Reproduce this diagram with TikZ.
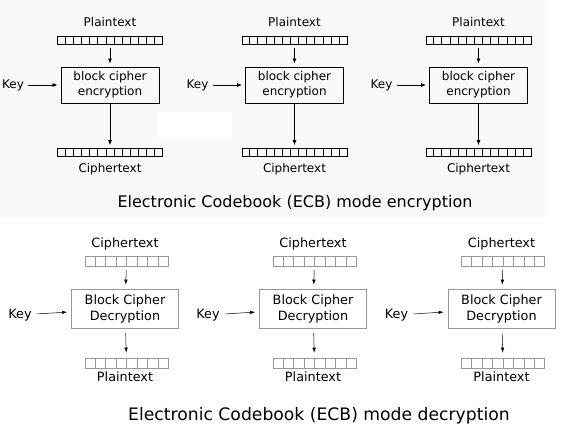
\documentclass[tikz,border=0pt]{standalone}
\usepackage{fontspec}
\setmainfont{DejaVu Sans}
\usetikzlibrary{calc,arrows.meta}
\definecolor{bgray}{HTML}{F8F8F8}
\definecolor{lgray}{HTML}{999999}
\begin{document}
\begin{tikzpicture}[x=1pt,y=-1pt,
  elbl/.style={inner sep=0pt, font=\fontsize{12}{14}\selectfont},
  dlbl/.style={inner sep=0pt, font=\fontsize{12.8}{15}\selectfont},
  ebar/.style={draw=black, line width=0.8pt, minimum width=105pt, minimum height=8pt, inner sep=0pt},
  ecell/.style={black, line width=0.8pt},
  ebox/.style={draw=black, line width=0.9pt, minimum width=98pt, minimum height=36pt, align=center, inner sep=0pt, font=\fontsize{12}{15}\selectfont},
  earr/.style={black, line width=0.8pt, -{Latex[length=5pt,width=4pt]}},
  dbar/.style={draw=lgray, line width=0.6pt, minimum width=83pt, minimum height=10pt, inner sep=0pt},
  dcell/.style={lgray, line width=0.6pt},
  dbox/.style={draw=lgray, line width=0.7pt, minimum width=107pt, minimum height=39pt, align=center, inner sep=0pt, font=\fontsize{12.8}{16}\selectfont},
  darr/.style={black, line width=0.5pt, -{Latex[length=5pt,width=3.5pt]}}
]
\useasboundingbox (0,0) rectangle (566,434);
\fill[bgray] (0,0) rectangle (545,217);
\fill[white] (157,112) rectangle (232,137);

% encryption
\foreach \i/\cx in {1/110,2/294.5,3/478.5}{
  \node[elbl] (ep\i) at (\cx,22) {Plaintext};
  \node[ebar] (eb\i) at (\cx,40.5) {};
  \node[ebox] (ec\i) at (\cx,85) {block cipher\\encryption};
  \node[ebar] (eo\i) at (\cx,152.5) {};
  \node[elbl] (et\i) at (\cx,169) {Ciphertext};
  \node[elbl] (ek\i) at (\cx-97,85) {Key};
  \foreach \j in {1,...,12}{
    \draw[ecell] ($(eb\i.north west)!\j/13!(eb\i.north east)$) -- ($(eb\i.south west)!\j/13!(eb\i.south east)$);
    \draw[ecell] ($(eo\i.north west)!\j/13!(eo\i.north east)$) -- ($(eo\i.south west)!\j/13!(eo\i.south east)$);
  }
  \draw[earr, shorten <=3pt, shorten >=3pt] (eb\i) -- (ec\i);
  \draw[earr, shorten <=1pt, shorten >=3pt] (ec\i) -- (eo\i);
  \draw[earr, shorten <=4pt, shorten >=3pt] (ek\i) -- (ec\i);
}
\node[inner sep=0pt, font=\fontsize{16}{18}\selectfont] (etitle) at (295,203) {Electronic Codebook (ECB) mode encryption};

% decryption
\foreach \i/\cx in {1/125,2/313,3/501.5}{
  \node[dlbl] (dc\i) at (\cx,244) {Ciphertext};
  \node[dbar] (db\i) at (\cx+1.5,261.5) {};
  \node[dbox] (dx\i) at (\cx,308.5) {Block Cipher\\Decryption};
  \node[dbar] (do\i) at (\cx+1.5,363) {};
  \node[dlbl] (dp\i) at (\cx,377) {Plaintext};
  \node[dlbl] (dk\i) at (\cx-105,315) {Key};
  \foreach \j in {1,...,7}{
    \draw[dcell] ($(db\i.north west)!\j/8!(db\i.north east)$) -- ($(db\i.south west)!\j/8!(db\i.south east)$);
    \draw[dcell] ($(do\i.north west)!\j/8!(do\i.north east)$) -- ($(do\i.south west)!\j/8!(do\i.south east)$);
  }
  \draw[darr, shorten <=3pt, shorten >=4pt] (db\i) -- (dx\i);
  \draw[darr, shorten <=5pt, shorten >=5pt] (dx\i) -- (do\i);
  \draw[darr, shorten <=5pt, shorten >=4pt] (dk\i) -- (dx\i);
}
\node[inner sep=0pt, font=\fontsize{17.2}{19}\selectfont] (dtitle) at (319,416) {Electronic Codebook (ECB) mode decryption};
\end{tikzpicture}
\end{document}
